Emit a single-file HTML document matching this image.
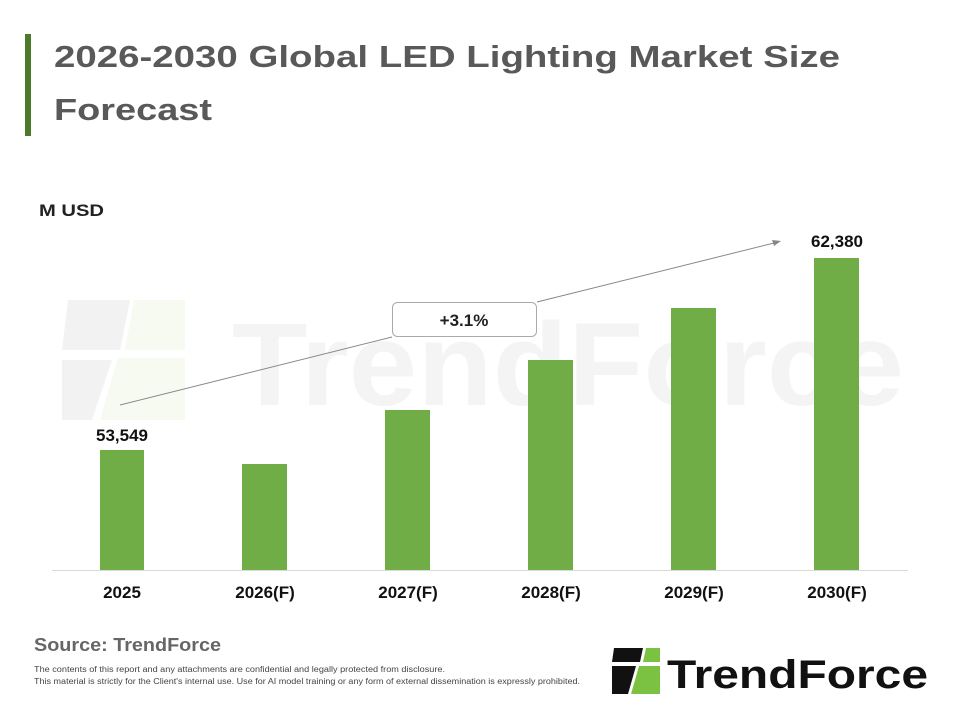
<!DOCTYPE html>
<html><head><meta charset="utf-8"><style>
body{margin:0;width:960px;height:720px;background:#fff;font-family:"Liberation Sans",sans-serif;overflow:hidden;position:relative}
</style></head><body>
<svg width="960" height="720" style="position:absolute;left:0;top:0" font-family="Liberation Sans, sans-serif">
<rect x="25" y="34" width="6" height="102" fill="#4a7a2a"/>
<text x="54" y="67" font-size="31" font-weight="bold" fill="#595959" textLength="786" lengthAdjust="spacingAndGlyphs">2026-2030 Global LED Lighting Market Size</text>
<text x="54" y="120" font-size="31" font-weight="bold" fill="#595959" textLength="158" lengthAdjust="spacingAndGlyphs">Forecast</text>
<text x="39" y="216" font-size="17" font-weight="bold" fill="#222" textLength="65" lengthAdjust="spacingAndGlyphs">M USD</text>
<!-- watermark -->
<g opacity="0.07">
<path d="M68 300 H130 L120 350 H62 Z" fill="#555"/>
<path d="M62 360 H112 L92 420 H62 Z" fill="#555"/>
<path d="M134 300 H185 V350 H125 Z" fill="#8bc34a"/>
<path d="M118 358 H185 V420 H100 Z" fill="#8bc34a"/>
<text x="232" y="405" font-size="118" font-weight="bold" fill="#777" textLength="672" lengthAdjust="spacingAndGlyphs">TrendForce</text>
</g>
<line x1="52" y1="570.5" x2="908" y2="570.5" stroke="#d9d9d9"/>
<g fill="#70ad47">
<rect x="100" y="450" width="44" height="120"/>
<rect x="242" y="464" width="45" height="106"/>
<rect x="385" y="410" width="45" height="160"/>
<rect x="528" y="360" width="45" height="210"/>
<rect x="671" y="308" width="45" height="262"/>
<rect x="814" y="258" width="45" height="312"/>
</g>
<line x1="120" y1="405" x2="392" y2="337" stroke="#888" stroke-width="1"/>
<line x1="537" y1="302" x2="774" y2="243" stroke="#888" stroke-width="1"/>
<path d="M781 241 L772 240 L774 246 Z" fill="#888"/>
<rect x="392.5" y="302.5" width="144" height="34" rx="5" fill="#fff" stroke="#aaa"/>
<text x="464" y="326" font-size="17" font-weight="bold" fill="#222" text-anchor="middle">+3.1%</text>
<text x="122" y="441" font-size="17" font-weight="bold" fill="#111" text-anchor="middle">53,549</text>
<text x="837" y="247" font-size="17" font-weight="bold" fill="#111" text-anchor="middle">62,380</text>
<g font-size="17" font-weight="bold" fill="#111" text-anchor="middle">
<text x="122" y="598">2025</text>
<text x="265" y="598">2026(F)</text>
<text x="408" y="598">2027(F)</text>
<text x="551" y="598">2028(F)</text>
<text x="694" y="598">2029(F)</text>
<text x="837" y="598">2030(F)</text>
</g>
<text x="34" y="651" font-size="18" font-weight="bold" fill="#666" textLength="187" lengthAdjust="spacingAndGlyphs">Source: TrendForce</text>
<text x="34" y="672" font-size="8" fill="#444" textLength="411" lengthAdjust="spacingAndGlyphs">The contents of this report and any attachments are confidential and legally protected from disclosure.</text>
<text x="34" y="684" font-size="8" fill="#444" textLength="546" lengthAdjust="spacingAndGlyphs">This material is strictly for the Client's internal use. Use for AI model training or any form of external dissemination is expressly prohibited.</text>
<path d="M614 648 H643 L640 662 H612 Z" fill="#111"/>
<path d="M612 666 H636 L628 694 H612 Z" fill="#111"/>
<path d="M646 648 H660 V662 H643 Z" fill="#7cc242"/>
<path d="M639 666 H660 V694 H631 Z" fill="#7cc242"/>
<text x="667" y="688" font-size="40" font-weight="bold" fill="#111" textLength="261" lengthAdjust="spacingAndGlyphs">TrendForce</text>
</svg>
</body></html>
